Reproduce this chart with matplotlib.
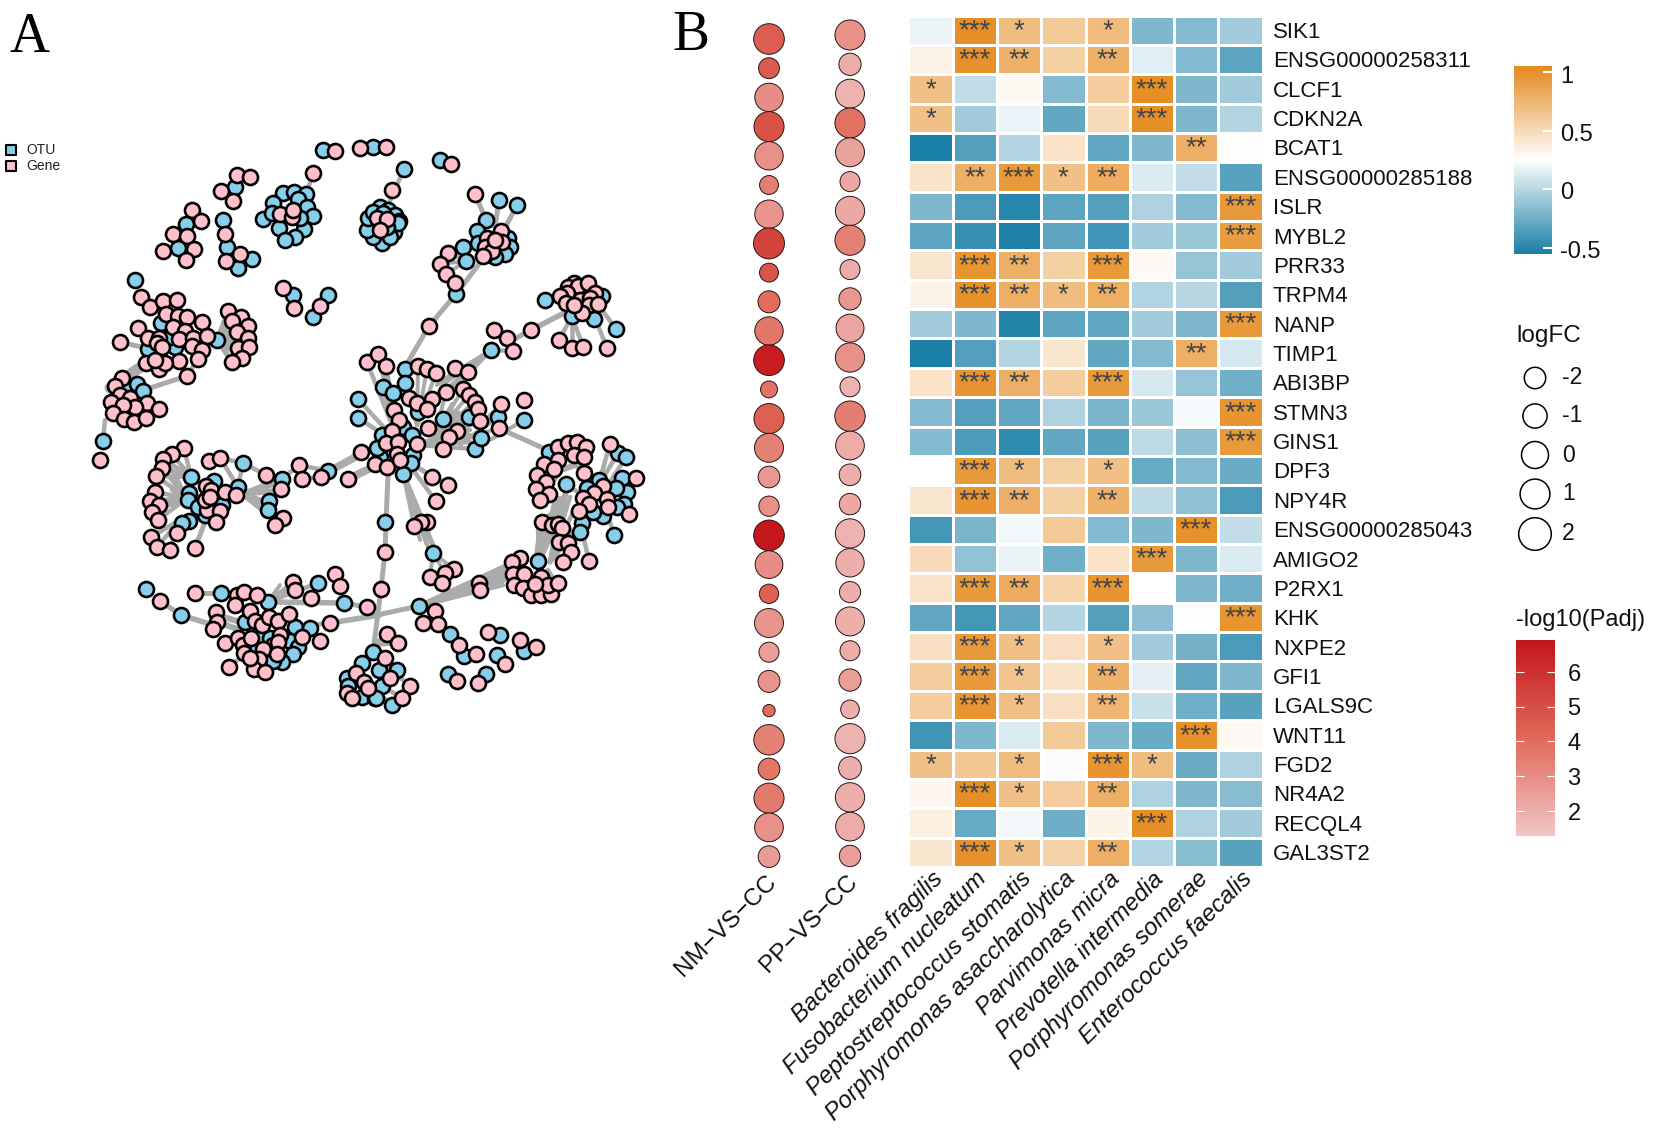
import numpy as np
import matplotlib
matplotlib.use("Agg")
import matplotlib.pyplot as plt
from matplotlib.collections import LineCollection
from matplotlib.colors import LinearSegmentedColormap

plt.rcParams["font.family"] = ["Liberation Sans", "DejaVu Sans"]

W, H = 1653, 1137

# [panel B data]_____________________________________________________________
genes = ["SIK1", "ENSG00000258311", "CLCF1", "CDKN2A", "BCAT1", "ENSG00000285188", "ISLR", "MYBL2",
         "PRR33", "TRPM4", "NANP", "TIMP1", "ABI3BP", "STMN3", "GINS1", "DPF3", "NPY4R",
         "ENSG00000285043", "AMIGO2", "P2RX1", "KHK", "NXPE2", "GFI1", "LGALS9C", "WNT11", "FGD2",
         "NR4A2", "RECQL4", "GAL3ST2"]
species = ["Bacteroides fragilis", "Fusobacterium nucleatum", "Peptostreptococcus stomatis",
           "Porphyromonas asaccharolytica", "Parvimonas micra", "Prevotella intermedia",
           "Porphyromonas somerae", "Enterococcus faecalis"]
contrasts = ["NM\u2212VS\u2212CC", "PP\u2212VS\u2212CC"]

corr = [
    [.18, 1.02, .70, .62, .72, -.20, -.18, -.08],
    [.34, 1.00, .78, .58, .78, .14, -.18, -.32],
    [.68, .03, .30, -.18, .60, 1.02, -.20, -.08],
    [.68, -.08, .18, -.30, .50, 1.02, -.20, -.02],
    [-.55, -.35, -.02, .45, -.30, -.20, .80, .26],
    [.44, .80, .95, .68, .82, .13, .04, -.34],
    [-.20, -.38, -.50, -.32, -.35, -.03, -.18, .95],
    [-.32, -.45, -.54, -.32, -.42, -.08, -.10, .92],
    [.42, .98, .80, .58, .95, .29, -.12, -.08],
    [.33, 1.00, .80, .70, .80, -.02, .00, -.35],
    [-.08, -.20, -.52, -.32, -.30, -.08, -.20, .95],
    [-.55, -.36, -.02, .42, -.30, -.18, .80, .10],
    [.45, .98, .80, .60, .95, .10, -.12, -.25],
    [-.18, -.36, -.30, -.03, -.22, -.10, .22, .98],
    [-.18, -.38, -.48, -.30, -.33, .02, -.15, .95],
    [.25, .95, .70, .58, .68, -.28, -.18, -.27],
    [.42, .98, .80, .58, .78, .02, -.14, -.38],
    [-.40, -.22, .20, .62, -.18, -.20, 1.00, .04],
    [.50, -.13, .17, -.25, .45, .95, -.20, .12],
    [.45, .95, .82, .55, .98, .25, -.20, -.25],
    [-.30, -.40, -.30, -.02, -.35, -.15, .24, .98],
    [.47, .95, .68, .47, .68, -.08, -.24, -.38],
    [.60, .95, .65, .44, .78, .15, -.30, -.20],
    [.60, .98, .68, .47, .75, .06, -.25, -.33],
    [-.42, -.20, .12, .62, -.20, -.27, 1.00, .30],
    [.68, .63, .70, .23, .98, .70, -.27, -.03],
    [.31, 1.02, .68, .60, .80, -.03, -.20, -.17],
    [.36, -.28, .20, -.26, .34, 1.02, -.03, -.08],
    [.42, 1.00, .68, .56, .80, -.02, -.16, -.33],
]
stars = [
    "0 3 1 0 1 0 0 0", "0 3 2 0 2 0 0 0", "1 0 0 0 0 3 0 0", "1 0 0 0 0 3 0 0", "0 0 0 0 0 0 2 0",
    "0 2 3 1 2 0 0 0", "0 0 0 0 0 0 0 3", "0 0 0 0 0 0 0 3", "0 3 2 0 3 0 0 0", "0 3 2 1 2 0 0 0",
    "0 0 0 0 0 0 0 3", "0 0 0 0 0 0 2 0", "0 3 2 0 3 0 0 0", "0 0 0 0 0 0 0 3", "0 0 0 0 0 0 0 3",
    "0 3 1 0 1 0 0 0", "0 3 2 0 2 0 0 0", "0 0 0 0 0 0 3 0", "0 0 0 0 0 3 0 0", "0 3 2 0 3 0 0 0",
    "0 0 0 0 0 0 0 3", "0 3 1 0 1 0 0 0", "0 3 1 0 2 0 0 0", "0 3 1 0 2 0 0 0", "0 0 0 0 0 0 3 0",
    "1 0 1 0 3 1 0 0", "0 3 1 0 2 0 0 0", "0 0 0 0 0 3 0 0", "0 3 1 0 2 0 0 0",
]

logfc_nm = [1.3, -2.2, .5, 1.1, .5, -2.9, .5, 1.4, -2.9, -1.8, .5, 1.3, -3.6, 1.1, .7, -1.9, -2.4,
            1.3, .25, -2.75, .7, -2.5, -1.8, -5.25, 1.2, -1.9, 1.1, .6, -1.9]
logfc_pp = [1.1, -1.7, .7, 1.1, .7, -2.5, .8, 1.1, -2.5, -1.7, .35, .8, -2.5, 1.2, .6, -1.9, -2.0,
            .8, .5, -2.1, .7, -2.5, -1.7, -3.0, 1.1, -1.5, .8, .6, -2.0]
padj_nm = [4.5, 4.6, 3.0, 4.9, 2.9, 3.5, 2.8, 5.4, 4.8, 4.0, 3.7, 6.7, 3.8, 4.4, 3.4, 2.7, 2.9,
           7.0, 3.0, 4.4, 2.8, 2.5, 2.8, 4.0, 3.4, 3.7, 3.6, 2.9, 2.6]
padj_pp = [2.9, 2.1, 1.9, 3.9, 2.4, 2.2, 2.2, 3.4, 2.1, 2.7, 2.3, 2.9, 1.9, 3.5, 2.1, 2.0, 2.2,
           1.9, 2.0, 2.0, 2.0, 2.1, 2.5, 2.0, 1.9, 2.0, 2.0, 2.1, 2.5]
legend_logfc = [-2, -1, 0, 1, 2]
corr_ticks = [1, 0.5, 0, -0.5]
padj_ticks = [6, 5, 4, 3, 2]

# [panel A data]_____________________________________________________________
# node layout of the network, in picture pixels
otu_nodes = [
    (323, 150), (373, 147), (235, 187), (186, 224), (223, 220), (178, 248), (227, 247), (252, 259), (238, 268),
    (135, 280), (293, 295), (328, 295), (313, 317), (263, 219), (283, 193), (294, 192), (306, 194), (298, 199),
    (273, 203), (307, 207), (313, 216), (304, 229), (279, 228), (295, 237), (285, 240), (272, 213), (300, 218),
    (161, 323), (217, 340), (148, 349), (175, 347), (170, 337), (128, 387), (137, 384), (143, 391), (358, 399),
    (358, 418),
    (404, 169), (440, 160), (499, 200), (517, 205), (486, 220), (477, 231), (463, 247), (466, 261), (456, 294),
    (545, 300), (616, 329), (491, 350), (594, 319), (572, 316), (602, 296), (405, 369), (405, 383), (383, 387),
    (393, 393), (443, 419), (469, 417), (498, 417), (524, 420), (418, 412), (403, 427),
    (380, 207), (388, 210), (395, 215), (399, 221), (394, 232), (382, 243), (373, 237), (367, 230), (368, 218),
    (373, 212), (390, 237), (398, 223), (383, 213), (387, 227),
    (478, 243), (508, 238), (510, 247), (505, 254), (495, 257), (485, 255),
    (103, 441), (243, 463), (191, 477), (214, 481), (328, 471), (282, 479), (238, 487), (189, 493), (188, 500),
    (269, 501), (268, 510), (222, 505), (205, 515), (198, 507), (189, 521), (182, 523), (146, 589), (221, 593),
    (181, 615), (268, 602), (318, 583), (344, 603), (245, 622), (295, 627), (310, 628), (290, 641), (298, 647),
    (293, 654), (282, 662), (273, 661), (262, 637), (270, 638), (253, 648), (373, 652),
    (362, 663), (347, 678), (348, 686), (362, 697), (375, 698),
    (382, 435), (412, 435), (413, 455), (411, 463), (403, 474), (380, 457), (377, 448), (475, 449), (481, 438),
    (385, 522), (433, 553), (419, 606), (450, 634), (500, 635), (464, 656), (497, 655), (524, 651), (448, 674),
    (486, 674), (379, 670), (397, 670), (382, 686), (376, 698), (392, 705),
    (549, 452), (566, 484), (538, 561), (582, 523), (580, 532), (614, 535), (618, 453), (626, 457), (622, 478),
    (627, 492), (624, 504), (599, 480), (587, 488), (616, 488), (603, 516), (593, 512), (617, 507),
]
gene_nodes = [
    (335, 151), (360, 148), (313, 173), (237, 175), (250, 177), (221, 191), (233, 201), (192, 210), (201, 221),
    (173, 234), (187, 236), (163, 251), (194, 249), (186, 260), (225, 234), (240, 254), (226, 261), (280, 214),
    (292, 217), (293, 210), (283, 288), (294, 308), (320, 306),
    (141, 297), (150, 307), (163, 301), (177, 300), (166, 314), (178, 316), (187, 317), (202, 322), (138, 328),
    (173, 327), (185, 331), (148, 338), (159, 338), (179, 339), (157, 343), (162, 347), (193, 338), (207, 336),
    (192, 346), (202, 350), (198, 359), (179, 361), (146, 363), (159, 369), (165, 363), (155, 360), (120, 342),
    (187, 376), (228, 311), (241, 317), (232, 321), (248, 326), (237, 332), (248, 338), (238, 348), (249, 347),
    (242, 358), (232, 362), (122, 378), (115, 386), (120, 395), (111, 402), (130, 398), (147, 403), (159, 409),
    (135, 407), (123, 405), (113, 413), (124, 419), (134, 422), (146, 418), (367, 362),
    (386, 147), (392, 190), (451, 164), (475, 194), (448, 253), (440, 264), (446, 274), (455, 283), (429, 326),
    (377, 218), (387, 219), (380, 230),
    (501, 231), (487, 238), (502, 242), (485, 247), (492, 251), (483, 256), (495, 240),
    (574, 283), (568, 287), (578, 286), (588, 283), (567, 293), (595, 293), (560, 296), (580, 300), (590, 298),
    (566, 303), (589, 305), (598, 304), (582, 313), (574, 305),
    (559, 340), (572, 348), (583, 347), (607, 348),
    (494, 330), (507, 338), (513, 351), (531, 330),
    (378, 354), (386, 366), (418, 366), (427, 369), (436, 373), (455, 368), (468, 372), (446, 392), (463, 389),
    (469, 395), (475, 402), (478, 409), (480, 421), (501, 404), (524, 400), (409, 398), (417, 403), (432, 399),
    (427, 409), (394, 410), (399, 420),
    (100, 460), (184, 448), (172, 454), (163, 459), (162, 468), (156, 476), (209, 461), (220, 458), (266, 475),
    (299, 465), (302, 479), (321, 477), (348, 479), (281, 489), (361, 452), (155, 492), (150, 501), (159, 505),
    (152, 512), (158, 520), (206, 486), (211, 490), (225, 492), (236, 495), (207, 510), (220, 511), (216, 522),
    (205, 500), (210, 497), (177, 533), (151, 537), (157, 547), (170, 550), (195, 548), (283, 518), (275, 525),
    (160, 601), (195, 593), (293, 582), (295, 590), (311, 598), (335, 574), (340, 586), (367, 607), (330, 623),
    (237, 595), (244, 592), (257, 595), (235, 605), (250, 611), (216, 612), (217, 622), (213, 629), (255, 621),
    (262, 625), (269, 617), (278, 621), (289, 614), (225, 643), (238, 638), (243, 645), (244, 653), (251, 638),
    (273, 645), (280, 635), (278, 642), (263, 649), (277, 654), (302, 637), (320, 641), (259, 659), (229, 667),
    (254, 669), (265, 672), (250, 658),
    (356, 673), (364, 682), (368, 688), (347, 693), (352, 698),
    (392, 431), (386, 443), (398, 442), (417, 444), (397, 454), (375, 464), (387, 467), (400, 460), (428, 428),
    (457, 431), (449, 437), (443, 449), (499, 428), (432, 477), (448, 485), (436, 501), (427, 522), (421, 522),
    (414, 526), (385, 552), (381, 589), (479, 583), (480, 590), (454, 569), (445, 573), (430, 577),
    (442, 583), (435, 611), (423, 623), (438, 624), (459, 645), (476, 654), (488, 632), (520, 640), (536, 647),
    (505, 664), (457, 681), (478, 683), (387, 634), (398, 643), (385, 658), (390, 678), (410, 686), (402, 698),
    (610, 444), (558, 447), (568, 443), (577, 442), (586, 447), (574, 455), (584, 457), (558, 460), (544, 464),
    (554, 469), (537, 475), (546, 482), (536, 489), (549, 494), (540, 500), (584, 473), (636, 478), (603, 486),
    (594, 493), (583, 498), (607, 499), (589, 504), (608, 507), (579, 511), (629, 514), (542, 522), (552, 525),
    (558, 524), (562, 528), (559, 542), (568, 543), (571, 552), (563, 562), (589, 561),
    (520, 558), (512, 562), (513, 574), (524, 574), (541, 577), (514, 585), (523, 588), (531, 595), (541, 595),
    (551, 594), (548, 585), (558, 583), (535, 584),
]
# grey edges as (start, line width in px, ends)
edge_fans = [
    ((313, 173), 4.5, [(307, 192)]), ((404, 169), 4.5, [(388, 205)]),
    ((120, 342), 5, [(150, 349)]), ((110, 388), 11, [(148, 362)]), ((150, 388), 5, [(187, 376)]),
    ((187, 376), 4.5, [(198, 359)]), ((105, 420), 4.5, [(103, 441)]),
    ((217, 340), 5, [(228, 311), (232, 321), (237, 332), (238, 348), (232, 362), (242, 358), (241, 317),
                     (230, 330), (232, 340), (236, 354)]),
    ((475, 194), 5, [(486, 220)]), ((499, 200), 5, [(495, 227)]), ((517, 205), 5, [(505, 228)]),
    ((457, 293), 5, [(482, 260)]), ((466, 261), 4, [(448, 253), (440, 264), (446, 274)]),
    ((456, 294), 5, [(429, 326)]), ((429, 326), 5, [(408, 362)]),
    ((491, 350), 4, [(445, 383), (441, 381), (449, 387), (437, 385), (452, 392), (444, 396)]),
    ((491, 350), 4.5, [(513, 351)]), ((531, 330), 5, [(507, 343)]), ((531, 330), 5.5, [(568, 311)]),
    ((572, 316), 4.5, [(559, 340), (572, 348), (583, 347)]), ((597, 323), 4.5, [(607, 348)]),
    ((602, 310), 4.5, [(616, 329)]),
    ((417, 425), 4, [(405, 369), (418, 366), (427, 369), (436, 373), (455, 368), (405, 383), (409, 398)]),
    ((435, 435), 4, [(443, 419), (452, 410), (463, 389), (469, 395), (475, 402), (478, 409), (480, 421),
                     (498, 417), (457, 431), (428, 428), (446, 392), (452, 404), (458, 412), (466, 420)]),
    ((400, 445), 4.5, [(358, 399), (358, 418), (367, 362), (378, 354), (386, 366), (383, 387), (393, 393)]),
    ((498, 417), 4, [(470, 437), (460, 445)]), ((524, 420), 4, [(490, 440)]), ((501, 404), 4, [(480, 425)]),
    ((499, 428), 4, [(460, 440)]),
    ((505, 431), 5, [(543, 448)]),
    ((417, 445), 4.5, [(470, 425), (470, 430), (470, 435), (470, 442), (475, 449), (457, 431)]),
    ((403, 472), 4, [(427, 545), (425, 540), (430, 540), (434, 550), (421, 525), (414, 526), (438, 556),
                     (428, 548), (420, 540), (424, 530)]),
    ((433, 553), 4, [(445, 573), (454, 569), (430, 577)]),
    ((388, 475), 5, [(386, 522)]), ((386, 522), 5, [(385, 552)]), ((385, 552), 5, [(381, 589)]),
    ((381, 589), 5, [(373, 652)]), ((419, 606), 5, [(372, 616)]),
    ((419, 606), 4.5, [(507, 565), (507, 570), (507, 575), (505, 580), (503, 585), (515, 562), (515, 568),
                       (490, 578), (480, 590)]),
    ((417, 467), 4.5, [(432, 477), (448, 485)]), ((413, 470), 4.5, [(436, 501)]),
    ((540, 560), 4.5, [(567, 488), (542, 522), (555, 500), (560, 498), (538, 530), (549, 515), (563, 510),
                       (545, 540), (558, 520)]),
    ((550, 562), 4.5, [(567, 490), (562, 505), (570, 497), (583, 520), (579, 525), (574, 510), (556, 528),
                       (570, 530), (565, 525)]),
    ((535, 565), 4.5, [(541, 520)]), ((552, 482), 6, [(561, 470)]), ((561, 470), 6, [(575, 465)]),
    ((575, 465), 6, [(590, 470)]),
    ((566, 484), 4.5, [(585, 497)]),
    ((589, 561), 4.5, [(583, 535)]), ((614, 535), 4.5, [(610, 522)]),
    ((610, 444), 4.5, [(602, 472)]), ((618, 453), 4.5, [(603, 478)]), ((626, 457), 4.5, [(610, 482)]),
    ((548, 570), 4.5, [(560, 590)]),
    ((187, 498), 4.5, [(155, 492), (150, 501), (159, 505), (152, 512), (158, 520), (162, 468), (156, 476), (172, 470),
                       (170, 505), (172, 490)]),
    ((191, 477), 4.5, [(184, 448), (172, 454), (163, 459), (162, 468), (156, 476)]),
    ((220, 458), 4.5, [(238, 487)]), ((243, 463), 4.5, [(238, 487)]), ((220, 458), 4.5, [(243, 463)]),
    ((243, 463), 4.5, [(266, 475)]), ((266, 475), 4.5, [(282, 479)]),
    ((238, 495), 4, [(281, 478), (281, 483), (281, 489), (275, 492), (270, 486)]),
    ((240, 493), 4, [(267, 502), (267, 508), (264, 512), (262, 500)]),
    ((282, 479), 4.5, [(299, 465)]), ((299, 465), 4.5, [(328, 471)]), ((302, 479), 4.5, [(321, 477)]),
    ((328, 471), 6, [(361, 453)]), ((348, 479), 8, [(373, 467)]), ((321, 477), 4.5, [(361, 456)]),
    ((180, 520), 4.5, [(151, 537), (157, 547), (170, 550)]), ((205, 522), 5, [(195, 548)]),
    ((160, 601), 5, [(181, 615)]), ((181, 615), 5.5, [(213, 625)]), ((195, 593), 5, [(221, 593)]),
    ((217, 615), 6, [(240, 622)]), ((217, 622), 6, [(240, 630)]),
    ((268, 602), 4, [(293, 582), (295, 590), (280, 585), (285, 590)]), ((268, 602), 4.5, [(318, 583)]),
    ((268, 602), 5.5, [(344, 603)]), ((344, 603), 5, [(367, 607)]), ((330, 623), 5.5, [(380, 615)]),
    ((295, 627), 4.5, [(330, 623)]), ((229, 667), 4.5, [(247, 652)]),
    ((373, 645), 4.5, [(387, 634), (398, 643)]), ((385, 665), 4.5, [(410, 686)]),
    ((382, 686), 4.5, [(402, 698)]), ((392, 705), 4.5, [(375, 690)]),
]


def px_axes(fig, left, top, right, bottom):
    return fig.add_axes([left / W, 1 - bottom / H, (right - left) / W, (bottom - top) / H])


def diameter_px(lfc):
    return 27 + 2.8 * np.asarray(lfc, dtype=float)


def area(d_px):
    return (np.asarray(d_px) * 0.72) ** 2


cmap_corr = LinearSegmentedColormap.from_list("corr", ["#1A7FA6", "#FFFFFF", "#E58A1E"])
cmap_padj = LinearSegmentedColormap.from_list("padj", ["#F1C6C7", "#DF6A5A", "#C5161C"])
corr_lim = (-0.555, 1.055)
padj_lim = (1.29, 6.91)

fig = plt.figure(figsize=(W / 100, H / 100), dpi=100)

# overlay in picture pixels, holds the network, dots and free labels
page = px_axes(fig, 0, 0, W, H)
page.set_xlim(0, W)
page.set_ylim(H, 0)
page.axis("off")

# [A: network]_______________________________________________________________
segs, widths = [], []
for start, lw_px, ends in edge_fans:
    for end in ends:
        segs.append([start, end])
        widths.append(lw_px * 0.72)
page.add_collection(LineCollection(segs, colors="#ABABAB", linewidths=widths, capstyle="round", zorder=1))

otu = np.array(otu_nodes)
gene = np.array(gene_nodes)
page.scatter(otu[:, 0], otu[:, 1], s=area(15), c="#87CEEB", edgecolors="black", linewidths=1.9, zorder=2)
page.scatter(gene[:, 0], gene[:, 1], s=area(15), c="#FFC0CB", edgecolors="black", linewidths=1.9, zorder=3)

page.scatter([11, 11], [150, 166], marker="s", s=area(10), c=["#87CEEB", "#FFC0CB"],
             edgecolors="black", linewidths=1.5, zorder=3)
page.text(26, 150, "OTU", fontsize=10, va="center", color="#222222")
page.text(26, 166, "Gene", fontsize=10, va="center", color="#222222")

page.text(10, 52, "A", family="Liberation Serif", fontsize=40, va="baseline")
page.text(672, 50, "B", family="Liberation Serif", fontsize=40, va="baseline")

# [B: heatmap]_______________________________________________________________
n_rows, n_cols = len(genes), len(species)
heat = px_axes(fig, 908.5, 15.5, 1262.5, 867)
heat.pcolormesh(np.array(corr), cmap=cmap_corr, vmin=corr_lim[0], vmax=corr_lim[1],
                edgecolors="white", linewidth=2.0)
heat.set_xlim(0, n_cols)
heat.set_ylim(n_rows, 0)
heat.axis("off")
for r, row in enumerate(stars):
    for c, count in enumerate(row.split()):
        if count != "0":
            heat.text(c + 0.5, r + 0.53, "*" * int(count), ha="center", va="center",
                      fontsize=20, color="#444444")

for r, name in enumerate(genes):
    heat.text(n_cols + 0.23, r + 0.58, name, fontsize=16, va="center", ha="left", color="#111111",
              clip_on=False)

for c, name in enumerate(species):
    heat.annotate(name, xy=(c + 0.5, n_rows), xytext=(6, -6), textcoords="offset points",
                  rotation=45, rotation_mode="anchor", ha="right", va="center",
                  style="italic", fontsize=17.3, color="#111111", annotation_clip=False)

# [B: dots]__________________________________________________________________
rows = np.arange(n_rows)
y_nm = 39 + rows * 29.2
y_pp = 35 + rows * 29.32
page.scatter(np.full(n_rows, 769), y_nm, s=area(diameter_px(logfc_nm)), c=padj_nm, cmap=cmap_padj,
             vmin=padj_lim[0], vmax=padj_lim[1], edgecolors="#2A1414", linewidths=0.7, zorder=3)
page.scatter(np.full(n_rows, 850), y_pp, s=area(diameter_px(logfc_pp)), c=padj_pp, cmap=cmap_padj,
             vmin=padj_lim[0], vmax=padj_lim[1], edgecolors="#2A1414", linewidths=0.7, zorder=3)
for x, name in zip([769, 850], contrasts):
    page.annotate(name, xy=(x, 876), xytext=(3, -2), textcoords="offset points", rotation=45,
                  rotation_mode="anchor", ha="right", va="center", fontsize=17.5, color="#111111")

# [B: legends]_______________________________________________________________
gradient = np.linspace(1, 0, 256).reshape(-1, 1)

bar = px_axes(fig, 1514, 66, 1552, 254)
bar.imshow(gradient, aspect="auto", cmap=cmap_corr, extent=(0, 1, corr_lim[0], corr_lim[1]))
bar.hlines(corr_ticks, 0.76, 1, colors="white", linewidth=1.5)
bar.axis("off")
for tick in corr_ticks:
    bar.annotate(f"{tick:g}", xy=(1, tick), xytext=(6, -3), textcoords="offset points",
                 va="center", fontsize=17, color="#111111")

page.text(1516, 336, "logFC", fontsize=17.5, va="center", color="#111111")
y_legend = np.array([378, 416, 455, 494, 534])
page.scatter(np.full(5, 1535), y_legend, s=area(diameter_px(legend_logfc)), facecolors="white",
             edgecolors="black", linewidths=1.1)
for y, tick in zip(y_legend, legend_logfc):
    page.text(1562, y, str(tick), fontsize=16.5, va="center", color="#111111")

page.text(1516, 620, "-log10(Padj)", fontsize=17, va="center", color="#111111")
bar2 = px_axes(fig, 1516, 640, 1555, 836)
bar2.imshow(gradient, aspect="auto", cmap=cmap_padj, extent=(0, 1, padj_lim[0], padj_lim[1]))
bar2.hlines(padj_ticks, 0, 0.2, colors="white", linewidth=0.8)
bar2.hlines(padj_ticks, 0.8, 1, colors="white", linewidth=0.8)
bar2.axis("off")
for tick in padj_ticks:
    bar2.annotate(str(tick), xy=(1, tick), xytext=(9, -2), textcoords="offset points",
                  va="center", fontsize=17, color="#111111")

fig.savefig("out.png", dpi=100)
